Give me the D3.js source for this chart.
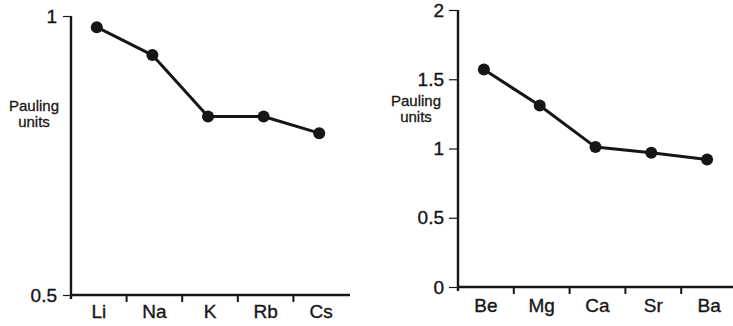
<!DOCTYPE html>
<html><head><meta charset="utf-8">
<script src="https://cdn.jsdelivr.net/npm/d3@7"></script>
<style>
html,body{margin:0;padding:0;background:#fff;}
svg{display:block;font-family:"Liberation Sans",Arial,Helvetica,sans-serif;}
</style></head>
<body><svg id="c" width="733" height="326"></svg>
<script>
// Left panel: alkali metals
const alkaliCategories = ["Li","Na","K","Rb","Cs"];
const alkaliValues = [0.98, 0.93, 0.82, 0.82, 0.79];
const alkaliTicks = [0.5, 1];
const alkaliTickLabels = ["0.5", "1"];
// Right panel: alkaline earth metals
const earthCategories = ["Be","Mg","Ca","Sr","Ba"];
const earthValues = [1.57, 1.31, 1.01, 0.97, 0.92];
const earthTicks = [0, 0.5, 1, 1.5, 2];
const earthTickLabels = ["0", "0.5", "1", "1.5", "2"];
const yTitle = ["Pauling", "units"];

const svg = d3.select("#c");
const ink = "#161616";

function panel(o){
  const g = svg.append("g");
  const x = d3.scaleBand().domain(o.cats).range([o.x0, o.x1]);
  const y = d3.scaleLinear().domain(o.yDomain).range([o.yBottom, o.yTop]);

  // y axis
  const ya = g.append("g").attr("transform", `translate(${o.x0},0)`)
    .call(d3.axisLeft(y).tickValues(o.ticks).tickFormat((d,i)=>o.tickLabels[i]).tickSize(o.tickSize).tickPadding(o.tickPad));
  ya.select(".domain").remove();
  ya.selectAll(".tick line").attr("stroke", ink).attr("stroke-width", 1.2);
  ya.selectAll(".tick text").attr("fill", ink).attr("stroke", ink).attr("stroke-width", 0.35).style("font-size", "19px");
  g.append("line").attr("x1", o.x0).attr("x2", o.x0)
    .attr("y1", y(o.yDomain[1]) ).attr("y2", o.yBottom + 4)
    .attr("stroke", ink).attr("stroke-width", 2.4);

  // x axis
  const xa = g.append("g").attr("transform", `translate(0,${o.yBottom})`)
    .call(d3.axisBottom(x).tickSize(0).tickPadding(o.xPad));
  xa.select(".domain").remove();
  xa.selectAll(".tick text").attr("fill", ink).attr("stroke", ink).attr("stroke-width", 0.35).style("font-size", "19px");
  g.append("line").attr("x1", o.x0).attr("x2", o.xEnd)
    .attr("y1", o.yBottom).attr("y2", o.yBottom)
    .attr("stroke", ink).attr("stroke-width", 2.4);
  g.selectAll(".bt").data(o.cats.slice(1)).enter().append("line")
    .attr("x1", d=>x(d)).attr("x2", d=>x(d))
    .attr("y1", o.yBottom).attr("y2", o.yBottom + 7)
    .attr("stroke", ink).attr("stroke-width", 2);

  // title (two lines)
  const t = g.append("g").attr("fill", ink).attr("stroke", ink).attr("stroke-width", 0.3)
    .style("font-size","15px").attr("text-anchor","middle");
  t.selectAll("text").data(yTitle).enter().append("text")
    .attr("x", o.titleX).attr("y", (d,i)=> o.titleY + i*16).text(d=>d);

  // line + markers
  const pts = o.cats.map((c,i)=>[x(c)+x.bandwidth()/2 - 2, y(o.vals[i])]);
  g.append("path").attr("d", d3.line()(pts))
    .attr("fill","none").attr("stroke", ink).attr("stroke-width", 3).attr("stroke-linejoin","round");
  g.selectAll(".pt").data(pts).enter().append("circle")
    .attr("cx", d=>d[0]).attr("cy", d=>d[1]).attr("r", 6).attr("fill", ink);
}

panel({cats: alkaliCategories, vals: alkaliValues, yDomain:[0.5,1], ticks: alkaliTicks, tickLabels: alkaliTickLabels,
  x0: 71, x1: 349, xEnd: 350, yBottom: 295, yTop: 16, tickSize: 8, tickPad: 6, xPad: 10,
  titleX: 34, titleY: 111});
panel({cats: earthCategories, vals: earthValues, yDomain:[0,2], ticks: earthTicks, tickLabels: earthTickLabels,
  x0: 458, x1: 737, xEnd: 733, yBottom: 287, yTop: 10, tickSize: 9, tickPad: 5, xPad: 12,
  titleX: 416, titleY: 106});
</script></body></html>
